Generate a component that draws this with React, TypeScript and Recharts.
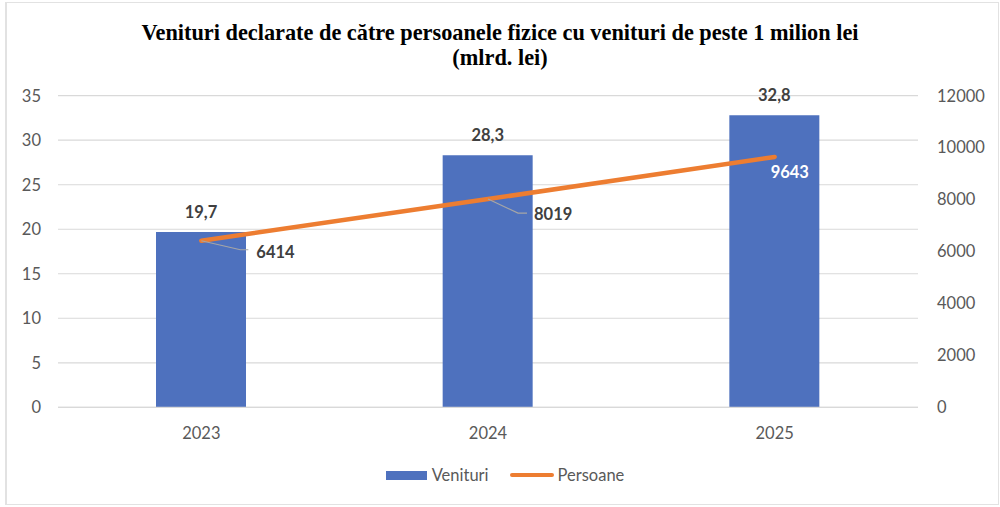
import React from 'react';
import { ComposedChart, Bar, Line, XAxis, YAxis, CartesianGrid, LabelList } from 'recharts';

const years = ['2023', '2024', '2025'];
const venituri = [19.7, 28.3, 32.8];
const persoane = [6414, 8019, 9643];
const leftTicks = [0, 5, 10, 15, 20, 25, 30, 35];
const rightTicks = [0, 2000, 4000, 6000, 8000, 10000, 12000];
const titleLines = ['Venituri declarate de către persoanele fizice cu venituri de peste 1 milion lei', '(mlrd. lei)'];
const seriesNames = ['Venituri', 'Persoane'];

const data = years.map((y, i) => ({ year: y, venituri: venituri[i], persoane: persoane[i] }));

const BAR_COLOR = '#4E71BE';
const LINE_COLOR = '#ED7D31';
const TEXT_COLOR = '#595959';
const LABEL_COLOR = '#404040';
const FONT = 'Lato, "Open Sans", sans-serif';

const lineLabelLayout = [
  { leader: [39, 9, 47], tx: 55, ty: 11, color: LABEL_COLOR, anchor: 'start' },
  { leader: [30, 14, 39], tx: 46, ty: 14.5, color: LABEL_COLOR, anchor: 'start' },
  { leader: null, tx: -4, ty: 15, color: '#FFFFFF', anchor: 'start' },
];

const BarLabel = (props: any) => {
  const { x, y, width, value } = props;
  const cx = Number(x) + Number(width) / 2;
  return (
    <text x={cx} y={Number(y) - 20} dy="0.36em" textAnchor="middle" fill={LABEL_COLOR}
      style={{ fontFamily: FONT, fontWeight: 700, fontSize: 16.5 }}>
      {String(value).replace('.', ',')}
    </text>
  );
};

const LineLabel = (props: any) => {
  const { x, y, value, index } = props;
  const l = lineLabelLayout[index];
  const px = Number(x);
  const py = Number(y);
  return (
    <g>
      {l.leader && (
        <polyline
          points={`${px},${py} ${px + l.leader[0]},${py + l.leader[1]} ${px + l.leader[2]},${py + l.leader[1]}`}
          fill="none" stroke="#A6A6A6" strokeWidth={1.2} />
      )}
      <text x={px + l.tx} y={py + l.ty} dy="0.36em" textAnchor={l.anchor as any} fill={l.color}
        style={{ fontFamily: FONT, fontWeight: 700, fontSize: 16.5 }}>
        {value}
      </text>
    </g>
  );
};

export default function App() {
  return (
    <div style={{ position: 'absolute', left: 0, top: 0, width: 1000, height: 507, background: '#fff', overflow: 'hidden' }}>
      <div style={{ position: 'absolute', left: 5, top: 2, width: 991, height: 501, borderTop: '1px solid #e2e2e2', borderRight: '1px solid #e2e2e2', borderBottom: '1px solid #e2e2e2', borderLeft: '2px solid #e2e2e2' }} />
      <div style={{ position: 'absolute', left: 0, top: 20, width: 1000, textAlign: 'center', fontFamily: '"Liberation Serif", "Times New Roman", serif', fontWeight: 700, fontSize: 22.3, lineHeight: '25px', color: '#000' }}>
        {titleLines.map((t) => (<div key={t}>{t}</div>))}
      </div>
      <div style={{ position: 'absolute', left: 0, top: 0 }}>
        <ComposedChart width={1000} height={507} data={data} margin={{ top: 95.7, right: 0, left: 0, bottom: 0 }}>
          <CartesianGrid yAxisId="left" vertical={false} stroke="#D9D9D9" strokeWidth={1.2} />
          <XAxis dataKey="year" height={99.7} axisLine={{ stroke: '#D9D9D9', strokeWidth: 1.2 }} tickLine={false}
            tickMargin={14} tick={{ fill: TEXT_COLOR, fontSize: 16.5, fontFamily: FONT }} />
          <YAxis yAxisId="left" width={58} domain={[0, 35]} ticks={leftTicks} axisLine={false} tickLine={false}
            tickMargin={11} tick={{ fill: TEXT_COLOR, fontSize: 16.5, fontFamily: FONT }} />
          <YAxis yAxisId="right" orientation="right" width={82} domain={[0, 12000]} ticks={rightTicks} axisLine={false}
            tickLine={false} tickMargin={13} tick={{ fill: TEXT_COLOR, fontSize: 16.5, fontFamily: FONT, textAnchor: 'start' }} />
          <Bar yAxisId="left" dataKey="venituri" name={seriesNames[0]} fill={BAR_COLOR} barSize={90} isAnimationActive={false}>
            <LabelList dataKey="venituri" content={BarLabel} />
          </Bar>
          <Line yAxisId="right" type="linear" dataKey="persoane" name={seriesNames[1]} stroke={LINE_COLOR} strokeWidth={4.5}
            dot={false} activeDot={false} strokeLinecap="round" isAnimationActive={false}>
            <LabelList dataKey="persoane" content={LineLabel} />
          </Line>
        </ComposedChart>
      </div>
      <div style={{ position: 'absolute', left: 0, top: 464, width: 1000, display: 'flex', justifyContent: 'center', alignItems: 'center', fontFamily: FONT, fontSize: 16.5, color: TEXT_COLOR, height: 22 }}>
        <div style={{ display: 'flex', alignItems: 'center', marginLeft: 10 }}>
          <span style={{ display: 'inline-block', width: 41, height: 9, background: BAR_COLOR, marginRight: 5 }} />
          <span>{seriesNames[0]}</span>
        </div>
        <div style={{ display: 'flex', alignItems: 'center', marginLeft: 21 }}>
          <span style={{ display: 'inline-block', width: 44, height: 4.5, borderRadius: 3, background: LINE_COLOR, marginRight: 4 }} />
          <span>{seriesNames[1]}</span>
        </div>
      </div>
    </div>
  );
}
